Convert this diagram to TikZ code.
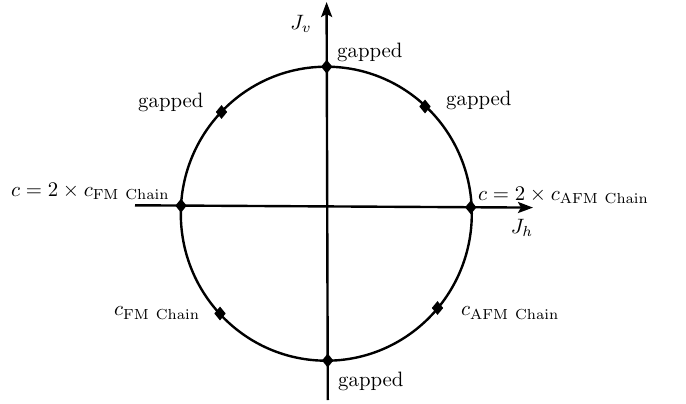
\documentclass[tikz,border=0pt]{standalone}
\usetikzlibrary{shapes.geometric,arrows.meta}
\newcommand{\bigtxt}[1]{\scalebox{2.08}{#1}}
\begin{document}
\begin{tikzpicture}[x=1pt,y=-1pt,
  lbl/.style={inner sep=0pt},
  dia/.style={diamond,fill=black,inner sep=0pt,minimum width=11.5pt,minimum height=14pt},
  ax/.style={line width=2.4pt,-{Stealth[length=15pt,width=11pt,inset=3pt]}},
  curve/.style={line width=2.4pt}]
\useasboundingbox (0,0) rectangle (686,404);
% circle
\draw[curve] (326.3,213.7) ellipse [x radius=145.5, y radius=147];
% axes
\coordinate (vb) at (327.8,400);
\coordinate (vt) at (326.6,2);
\coordinate (hl) at (135,205.3);
\coordinate (hr) at (533,207.6);
\draw[ax] (vb) -- (vt);
\draw[ax] (hl) -- (hr);
% diamonds
\node[dia] (top) at (326.7,66.7) {};
\node[dia] (bot) at (327.7,360.5) {};
\node[dia] (lft) at (181,205.7) {};
\node[dia] (rgt) at (470.8,207.3) {};
\node[dia] (ul) at (221.5,112) {};
\node[dia] (ur) at (425,106.5) {};
\node[dia] (ll) at (220,313.5) {};
\node[dia] (lr) at (437.5,308) {};
% labels
\node[lbl] (Jv) at (301,24) {\bigtxt{$J_v$}};
\node[lbl] (Jh) at (522,228) {\bigtxt{$J_h$}};
\node[lbl,anchor=west] (gt) at (337,52) {\bigtxt{gapped}};
\node[lbl,anchor=west] (gb) at (338,381) {\bigtxt{gapped}};
\node[lbl,anchor=west] (gul) at (138,102) {\bigtxt{gapped}};
\node[lbl,anchor=west] (gur) at (446,100) {\bigtxt{gapped}};
\node[lbl,anchor=west] (cfm2) at (11,191) {\bigtxt{$c = 2\times c_{\mathrm{FM\ Chain}}$}};
\node[lbl,anchor=west] (cafm2) at (478,195) {\bigtxt{$c = 2\times c_{\mathrm{AFM\ Chain}}$}};
\node[lbl,anchor=west] (cfm) at (114,313) {\bigtxt{$c_{\mathrm{FM\ Chain}}$}};
\node[lbl,anchor=west] (cafm) at (461,313) {\bigtxt{$c_{\mathrm{AFM\ Chain}}$}};
\end{tikzpicture}
\end{document}
